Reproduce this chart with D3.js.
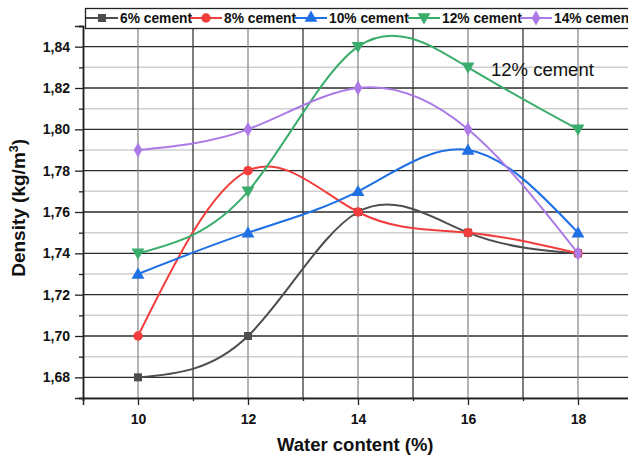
<!DOCTYPE html>
<html>
<head>
<meta charset="utf-8">
<script src="https://cdn.jsdelivr.net/npm/d3@7"></script>
<style>
  body { margin: 0; background: #fff; }
  svg { display: block; font-family: "Liberation Sans", Arial, sans-serif; }
</style>
</head>
<body>
<div id="chart"></div>
<script>
// data
const waterContent = [10, 12, 14, 16, 18];
const seriesNames = ['6% cement', '8% cement', '10% cement', '12% cement', '14% cement'];
const cement6 = [1.68, 1.70, 1.76, 1.75, 1.74];
const cement8 = [1.70, 1.78, 1.76, 1.75, 1.74];
const cement10 = [1.73, 1.75, 1.77, 1.79, 1.75];
const cement12 = [1.74, 1.77, 1.84, 1.83, 1.80];
const cement14 = [1.79, 1.80, 1.82, 1.80, 1.74];
const yMajorTicks = [1.68, 1.70, 1.72, 1.74, 1.76, 1.78, 1.80, 1.82, 1.84];
const yMinorTicks = [1.67, 1.69, 1.71, 1.73, 1.75, 1.77, 1.79, 1.81, 1.83, 1.85];
const xMajorTicks = [10, 12, 14, 16, 18];
const xMinorTicks = [9, 11, 13, 15, 17, 19];

const colors = ['#4d4d4d', '#f23d3d', '#1f6fe5', '#3aac6c', '#ac7ae6'];
const shapes = [d3.symbolSquare, d3.symbolCircle, d3.symbolTriangle, d3.symbolTriangle, d3.symbolDiamond];
const symSizes = [64, 70, 72, 72, 64];
const rotations = [0, 0, 0, 180, 0];

const W = 628, H = 457;
const margin = { left: 83, top: 26, right: -5, bottom: 59 };

const svg = d3.select('#chart').append('svg')
  .attr('width', W)
  .attr('height', H);

const x = d3.scaleLinear().domain([9, 19]).range([margin.left, W - margin.right]);
const y = d3.scaleLinear().domain([1.67, 1.85]).range([H - margin.bottom, margin.top]);

// grid lines
const grid = svg.append('g');
grid.selectAll('.ymin').data(yMinorTicks.slice(0, -1)).join('line')
  .attr('x1', x(9)).attr('x2', x(19))
  .attr('y1', d => y(d)).attr('y2', d => y(d))
  .attr('stroke', '#cfcfcf').attr('stroke-width', 1.5);
grid.selectAll('.ymaj').data(yMajorTicks).join('line')
  .attr('x1', x(9)).attr('x2', x(19))
  .attr('y1', d => y(d)).attr('y2', d => y(d))
  .attr('stroke', '#2a2a2a').attr('stroke-width', 1.3);
grid.selectAll('.xmaj').data(xMajorTicks).join('line')
  .attr('x1', d => x(d)).attr('x2', d => x(d))
  .attr('y1', y(1.67)).attr('y2', y(1.85))
  .attr('stroke', '#8c8c8c').attr('stroke-width', 1.3);
grid.selectAll('.xmin').data(xMinorTicks.slice(1)).join('line')
  .attr('x1', d => x(d)).attr('x2', d => x(d))
  .attr('y1', y(1.67)).attr('y2', y(1.85))
  .attr('stroke', '#3a3a3a').attr('stroke-width', 1.3);

// axes
const fmt = d => d.toFixed(2).replace('.', ',');
const yAxis = svg.append('g').attr('transform', `translate(${margin.left},0)`)
  .call(d3.axisLeft(y).tickValues(yMajorTicks).tickSize(8).tickPadding(5).tickFormat(fmt));
const yAxisMinor = svg.append('g').attr('transform', `translate(${margin.left},0)`)
  .call(d3.axisLeft(y).tickValues(yMinorTicks).tickSize(4).tickFormat(''));
const xAxis = svg.append('g').attr('transform', `translate(0,${y(1.67)})`)
  .call(d3.axisBottom(x).tickValues(xMajorTicks).tickSize(7).tickPadding(9));
const xAxisMinor = svg.append('g').attr('transform', `translate(0,${y(1.67)})`)
  .call(d3.axisBottom(x).tickValues(xMinorTicks).tickSize(3).tickFormat(''));

[yAxis, yAxisMinor, xAxis, xAxisMinor].forEach(g => {
  g.select('.domain').attr('stroke', '#222').attr('stroke-width', 1.5);
  g.selectAll('.tick line').attr('stroke', '#222').attr('stroke-width', 1.3);
  g.selectAll('text').attr('font-size', 14).attr('font-weight', 'bold')
    .attr('fill', '#111').attr('font-family', '"Liberation Sans", Arial, sans-serif');
});

// axis titles
svg.append('text')
  .attr('x', x(13.95)).attr('y', 451)
  .attr('text-anchor', 'middle')
  .attr('font-size', 18.5).attr('font-weight', 'bold').attr('fill', '#111')
  .text('Water content (%)');

const yt = svg.append('text')
  .attr('transform', `translate(25,${y(1.762)}) rotate(-90)`)
  .attr('text-anchor', 'middle')
  .attr('font-size', 19).attr('font-weight', 'bold').attr('fill', '#111');
yt.append('tspan').text('Density (kg/m');
yt.append('tspan').attr('font-size', 12.5).attr('dy', -7).text('3');
yt.append('tspan').attr('dy', 7).text(')');

// series
const allSeries = [cement6, cement8, cement10, cement12, cement14];
const line = d3.line()
  .x((d, i) => x(waterContent[i]))
  .y(d => y(d))
  .curve(d3.curveNatural);

allSeries.forEach((vals, s) => {
  svg.append('path')
    .datum(vals)
    .attr('d', line)
    .attr('fill', 'none')
    .attr('stroke', colors[s])
    .attr('stroke-width', 2);
  svg.selectAll(null).data(vals).join('path')
    .attr('transform', (d, i) => `translate(${x(waterContent[i])},${y(d) + (rotations[s] ? -1 : (s === 2 ? 1 : 0))}) rotate(${rotations[s]})`)
    .attr('d', d3.symbol().type(shapes[s]).size(symSizes[s]))
    .attr('fill', colors[s]);
});

// annotation
svg.append('text')
  .attr('x', 491).attr('y', 76)
  .attr('font-size', 18.5).attr('fill', '#111')
  .text('12% cement');

// legend
const legend = svg.append('g');
legend.append('rect')
  .attr('x', 85.5).attr('y', 8.5).attr('width', 600).attr('height', 20)
  .attr('fill', '#fff').attr('stroke', '#222').attr('stroke-width', 1.3);
const legendX = [86, 190, 295, 408, 520];
seriesNames.forEach((name, s) => {
  const g = legend.append('g').attr('transform', `translate(${legendX[s]},18)`);
  g.append('line').attr('x1', 0).attr('x2', 32).attr('stroke', colors[s]).attr('stroke-width', 2);
  g.append('path')
    .attr('transform', `translate(16,${rotations[s] ? -1 : 0}) rotate(${rotations[s]})`)
    .attr('d', d3.symbol().type(shapes[s]).size(symSizes[s]))
    .attr('fill', colors[s]);
  g.append('text')
    .attr('x', 34).attr('y', 5)
    .attr('font-size', 13.8).attr('font-weight', 'bold').attr('fill', '#111')
    .text(name);
});
</script>
</body>
</html>
